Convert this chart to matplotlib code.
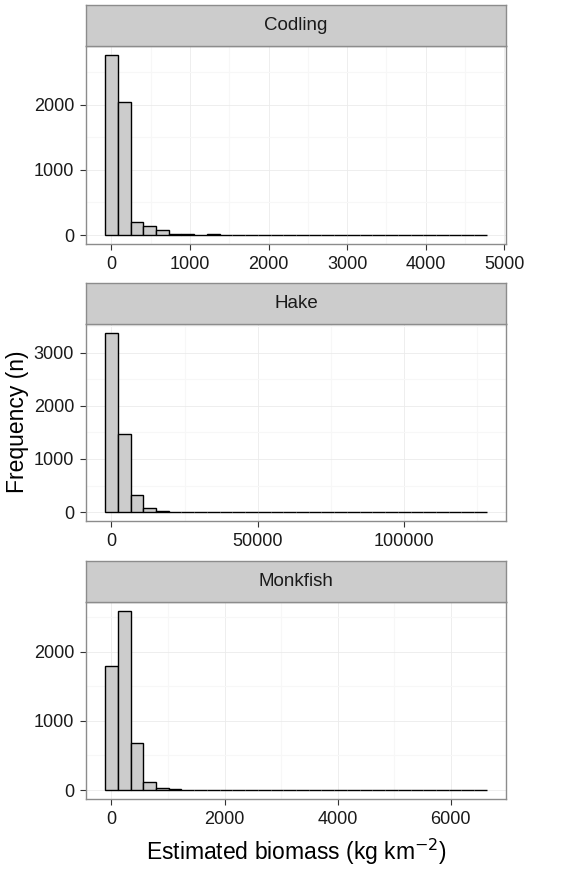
import matplotlib
matplotlib.use("Agg")
import matplotlib.pyplot as plt
import numpy as np

plt.rcParams['font.family'] = ['Liberation Sans', 'DejaVu Sans']

# facet names
species = ["Codling", "Hake", "Monkfish"]

# histogram bin widths (kg km-2), first bin centred on 0
bin_widths = [162, 4350, 225]

# counts per bin (30 bins each)
codling_counts = [2769, 2041, 195, 144, 72, 20, 8, 5, 12, 5, 3, 2, 1, 1, 1,
                  0, 1, 0, 0, 1, 0, 0, 0, 0, 0, 0, 0, 0, 0, 1]
hake_counts = [3375, 1469, 312, 69, 19, 6, 3, 2, 1, 1, 1, 0, 0, 1, 0,
               0, 0, 0, 0, 0, 0, 0, 0, 0, 0, 0, 0, 0, 0, 1]
monkfish_counts = [1794, 2590, 681, 115, 29, 12, 6, 4, 3, 2, 1, 1, 0, 1, 0,
                   0, 0, 0, 0, 0, 0, 0, 0, 0, 0, 0, 0, 0, 0, 1]
all_counts = [codling_counts, hake_counts, monkfish_counts]

x_ticks = [[0, 1000, 2000, 3000, 4000, 5000],
           [0, 50000, 100000],
           [0, 2000, 4000, 6000]]
y_ticks = [[0, 1000, 2000],
           [0, 1000, 2000, 3000],
           [0, 1000, 2000]]

W, H = 588, 871
fig = plt.figure(figsize=(W / 100, H / 100), dpi=100)

# pixel layout: (strip top, panel top, panel bottom)
rows = [(5, 46, 244), (283, 324, 521), (561, 602, 799)]
left, right = 86, 506

border_col = '#8C8C8C'

for i, name in enumerate(species):
    s_top, p_top, p_bot = rows[i]
    ax = fig.add_axes([left / W, 1 - p_bot / H, (right - left) / W, (p_bot - p_top) / H])
    sax = fig.add_axes([left / W, 1 - p_top / H, (right - left) / W, (p_top - s_top) / H])

    counts = np.array(all_counts[i])
    w = bin_widths[i]
    centers = np.arange(len(counts)) * w
    ax.bar(centers, counts, width=w, color='#CCCCCC', edgecolor='black',
           linewidth=1.0, zorder=3)

    lo, hi = -w / 2, centers[-1] + w / 2
    pad = (hi - lo) * 0.05
    ymax = counts.max()

    xt = x_ticks[i]
    yt = y_ticks[i]
    ax.set_xticks(xt)
    ax.set_xticklabels([str(v) for v in xt])
    ax.set_yticks(yt)
    ax.set_yticklabels([str(v) for v in yt])
    step_x = xt[1] - xt[0]
    step_y = yt[1] - yt[0]
    ax.set_xticks(np.arange(xt[0] - step_x / 2, hi + pad + step_x, step_x), minor=True)
    ax.set_yticks(np.arange(yt[0] - step_y / 2, ymax * 1.05 + step_y, step_y), minor=True)

    # limits last so the ticks do not widen them
    ax.set_xlim(lo - pad, hi + pad)
    ax.set_ylim(-ymax * 0.05, ymax * 1.05)

    ax.grid(which='major', color='#EBEBEB', linewidth=0.6, zorder=0)
    ax.grid(which='minor', color='#F7F7F7', linewidth=0.8, zorder=0)
    ax.set_axisbelow(True)
    ax.tick_params(which='major', length=4, width=0.8, color='#333333',
                   labelsize=13, labelcolor='#1A1A1A', pad=4.5)
    ax.tick_params(which='minor', length=0)
    for sp in ax.spines.values():
        sp.set_color(border_col)
        sp.set_linewidth(1.0)

    sax.set_facecolor('#CCCCCC')
    sax.set_xticks([])
    sax.set_yticks([])
    for sp in sax.spines.values():
        sp.set_color(border_col)
        sp.set_linewidth(1.0)
    sax.text(0.5, 0.5, name, ha='center', va='center', fontsize=13.5,
             color='#1A1A1A', transform=sax.transAxes)

fig.text(18 / W, 1 - 422 / H, "Frequency (n)", rotation=90, ha='center',
         va='center', fontsize=16.5, color='black')
fig.text(296 / W, 1 - 852 / H, r"Estimated biomass (kg km$^{-2}$)", ha='center',
         va='center', fontsize=16.5, color='black')

fig.savefig("out.png", dpi=100)
